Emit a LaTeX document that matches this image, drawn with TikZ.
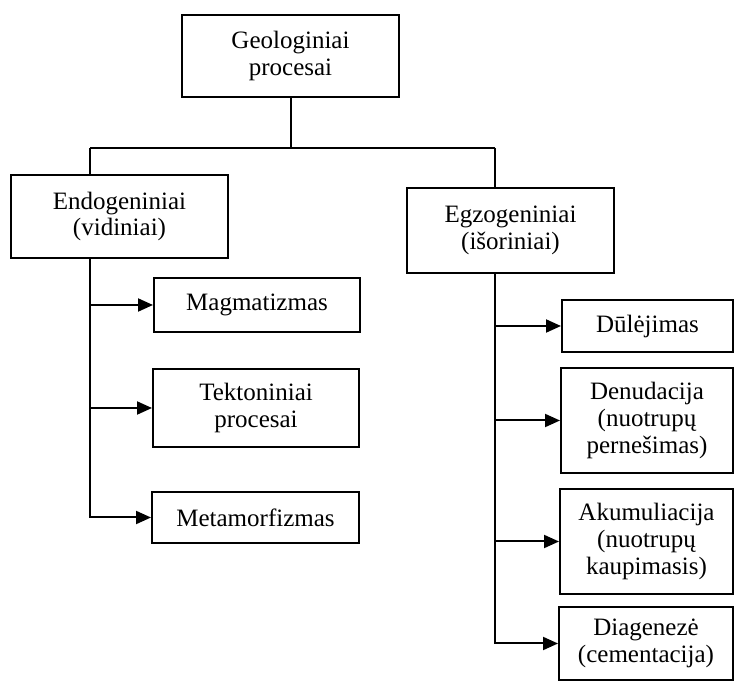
\documentclass[tikz,border=0pt]{standalone}
\usepackage{fontspec}
\setmainfont{Liberation Serif}
\usetikzlibrary{positioning,arrows.meta}
\tikzset{>={Triangle[length=7.5pt,width=6.5pt]}}
\tikzset{procbox/.style={draw,line width=1pt,rectangle,align=center,inner sep=2pt,font=\fontsize{12.5}{13.4}\selectfont}}
\tikzset{links/.style={line width=1pt}}

\begin{document}
\begin{tikzpicture}[x=0.5pt,y=-0.5pt]
  \useasboundingbox (0,0) rectangle (735,684);
  % top level
  \node[procbox,minimum width=108.5pt,minimum height=41pt] (geo) at (290.5,56) {Geologiniai\\procesai};
  \node[procbox,minimum width=108.5pt,minimum height=41.5pt] (endo) at (119.5,216.5) {Endogeniniai\\(vidiniai)};
  \node[procbox,minimum width=103.5pt,minimum height=42.5pt] (egzo) at (510.5,230.5) {Egzogeniniai\\(išoriniai)};
  % endogenic processes
  \node[procbox,minimum width=103pt,minimum height=27pt] (magma) at (257,305) {Magmatizmas};
  \node[procbox,minimum width=103pt,minimum height=39pt] (tekto) at (256,408) {Tektoniniai\\procesai};
  \node[procbox,minimum width=103.5pt,minimum height=25.5pt] (meta) at (255.5,517.5) {Metamorfizmas};
  % exogenic processes
  \node[procbox,minimum width=85.5pt,minimum height=26pt] (dule) at (647.5,326) {Dūlėjimas};
  \node[procbox,minimum width=86pt,minimum height=52.5pt] (denu) at (647,420.5) {Denudacija\\(nuotrupų\\pernešimas)};
  \node[procbox,minimum width=86.5pt,minimum height=52.5pt] (akum) at (646.5,541.5) {Akumuliacija\\(nuotrupų\\kaupimasis)};
  \node[procbox,minimum width=87pt,minimum height=36.5pt] (diag) at (646,643.5) {Diagenezė\\(cementacija)};
  % connectors
  \coordinate (lt) at (90,148);
  \coordinate (rt) at (495,148);
  \draw[links] (geo.south) -- (geo.south |- lt);
  \draw[links] (lt) -- (rt);
  \draw[links] (lt) -- (lt |- endo.north);
  \draw[links] (rt) -- (rt |- egzo.north);
  \foreach \kid in {magma,tekto,meta}
    \draw[links,->] (lt |- endo.south) |- (\kid.west);
  \foreach \kid in {dule,denu,akum,diag}
    \draw[links,->] (rt |- egzo.south) |- (\kid.west);
\end{tikzpicture}
\end{document}
